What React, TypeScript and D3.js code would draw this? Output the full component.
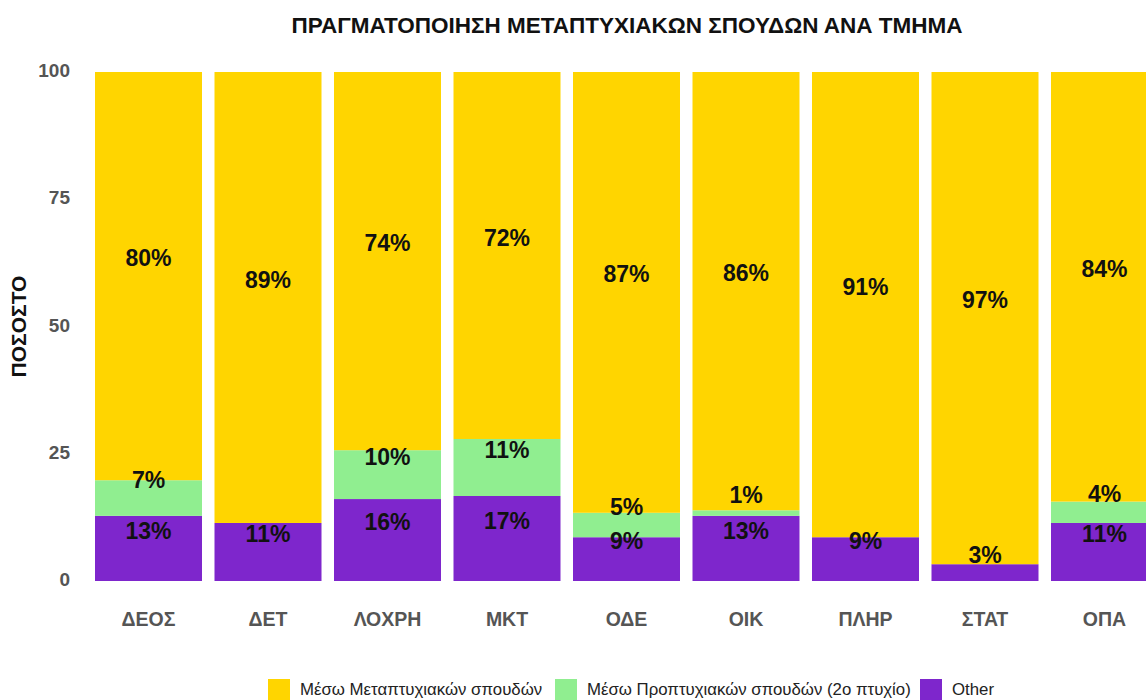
import * as d3 from 'd3';
import React, { useEffect, useRef } from 'react';

const categories = ['ΔΕΟΣ', 'ΔΕΤ', 'ΛΟΧΡΗ', 'ΜΚΤ', 'ΟΔΕ', 'ΟΙΚ', 'ΠΛΗΡ', 'ΣΤΑΤ', 'ΟΠΑ'];
const otherValues = [12.8, 11.4, 16.1, 16.7, 8.6, 12.8, 8.6, 3.3, 11.4];
const undergradValues = [7.0, 0, 9.6, 11.2, 4.8, 1.1, 0, 0, 4.2];
const postgradValues = [80.2, 88.6, 74.3, 72.1, 86.6, 86.1, 91.4, 96.7, 84.4];
const seriesNames = ['Μέσω Μεταπτυχιακών σπουδών', 'Μέσω Προπτυχιακών σπουδών (2ο πτυχίο)', 'Other'];
const seriesColors = ['#FFD500', '#90EE90', '#7E26CC'];
const yTicks = [0, 25, 50, 75, 100];

const FONT = "'Liberation Sans', Arial, sans-serif";

function App() {
    const ref = useRef<SVGSVGElement>(null);

    useEffect(() => {
        const svg = d3.select(ref.current);
        svg.selectAll('*').remove();

        const top = 72, bottom = 581;

        const x = d3.scaleBand()
            .domain(categories)
            .range([88.75, 1164.25])
            .paddingInner(0.1046)
            .paddingOuter(0.0523);

        const y = d3.scaleLinear().domain([0, 100]).range([bottom, top]);

        const rows = categories.map((c, i) => ({
            cat: c,
            other: otherValues[i],
            under: undergradValues[i],
            post: postgradValues[i],
        }));

        // bottom -> top: other, under, post
        const stacked = d3.stack<any>().keys(['other', 'under', 'post'])(rows);
        const colorFor = { other: seriesColors[2], under: seriesColors[1], post: seriesColors[0] };

        svg.append('text')
            .attr('x', 627)
            .attr('y', 27)
            .attr('text-anchor', 'middle')
            .attr('dominant-baseline', 'middle')
            .style('font', `bold 22.5px ${FONT}`)
            .style('fill', '#111')
            .text('ΠΡΑΓΜΑΤΟΠΟΙΗΣΗ ΜΕΤΑΠΤΥΧΙΑΚΩΝ ΣΠΟΥΔΩΝ ΑΝΑ ΤΜΗΜΑ');

        // y ticks
        svg.append('g').selectAll('text')
            .data(yTicks)
            .join('text')
            .attr('x', 70)
            .attr('y', d => y(d))
            .attr('text-anchor', 'end')
            .attr('dominant-baseline', 'middle')
            .style('font', `bold 19px ${FONT}`)
            .style('fill', '#555')
            .text(d => d);

        svg.append('text')
            .attr('transform', `translate(20,${(top + bottom) / 2}) rotate(-90)`)
            .attr('text-anchor', 'middle')
            .attr('dominant-baseline', 'middle')
            .style('font', `bold 21px ${FONT}`)
            .style('fill', '#111')
            .text('ΠΟΣΟΣΤΟ');

        const layers = svg.append('g').selectAll('g')
            .data(stacked)
            .join('g')
            .attr('fill', d => colorFor[d.key as keyof typeof colorFor]);

        layers.selectAll('rect')
            .data(d => d.filter(s => s[1] - s[0] > 0))
            .join('rect')
            .attr('x', d => x(d.data.cat)!)
            .attr('width', x.bandwidth())
            .attr('y', d => y(d[1]))
            .attr('height', d => y(d[0]) - y(d[1]));

        // value labels
        const labels = svg.append('g');
        stacked.forEach(layer => {
            layer.forEach(s => {
                const v = s[1] - s[0];
                if (v <= 0) return;
                labels.append('text')
                    .attr('x', x(s.data.cat)! + x.bandwidth() / 2)
                    .attr('y', (y(s[0]) + y(s[1])) / 2 - 16)
                    .attr('text-anchor', 'middle')
                    .attr('dominant-baseline', 'middle')
                    .style('font', `bold 23px ${FONT}`)
                    .style('fill', '#111')
                    .text(Math.round(v) + '%');
            });
        });

        // category labels
        svg.append('g').selectAll('text')
            .data(categories)
            .join('text')
            .attr('x', d => x(d)! + x.bandwidth() / 2)
            .attr('y', 621)
            .attr('text-anchor', 'middle')
            .attr('dominant-baseline', 'middle')
            .style('font', `bold 19.5px ${FONT}`)
            .style('fill', '#555')
            .text(d => d);

        // legend
        const legendX = [268, 555, 920];
        const lg = svg.append('g');
        seriesNames.forEach((name, i) => {
            lg.append('rect')
                .attr('x', legendX[i])
                .attr('y', 679)
                .attr('width', 22)
                .attr('height', 22)
                .attr('fill', seriesColors[i]);
            lg.append('text')
                .attr('x', legendX[i] + 32)
                .attr('y', 691)
                .attr('dominant-baseline', 'middle')
                .style('font', `16.8px ${FONT}`)
                .style('fill', '#222')
                .text(name);
        });
    }, []);

    return (
        <svg ref={ref} width={1146} height={700}
            style={{ position: 'absolute', left: 0, top: 0, background: '#fff' }} />
    );
}

export default App;
